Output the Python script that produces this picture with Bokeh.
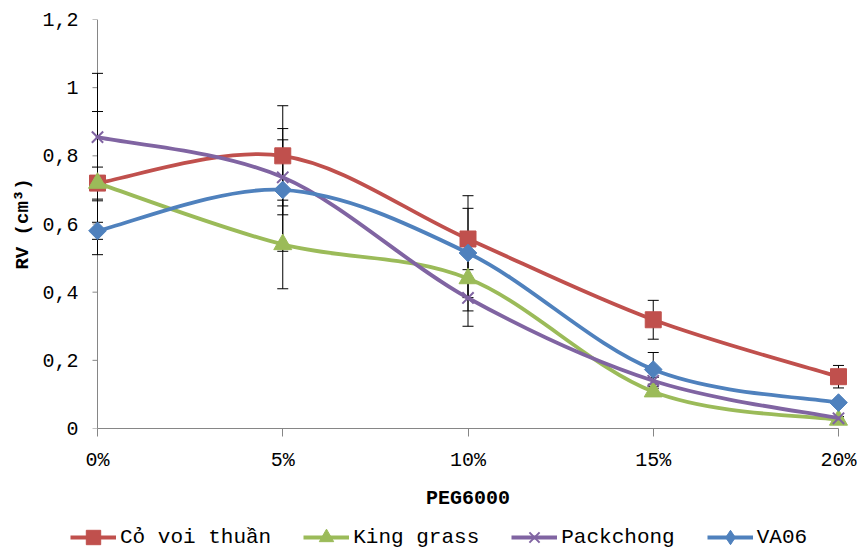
import numpy as np
from bokeh.plotting import figure
from bokeh.models import (Range1d, FixedTicker, CustomJSTickFormatter, Whisker, TeeHead,
                          ColumnDataSource, Legend, LegendItem, Span)
from bokeh.embed import file_html
from bokeh.resources import INLINE

# ---------------- data ----------------
categories = ["0%", "5%", "10%", "15%", "20%"]
peg = [0, 5, 10, 15, 20]

co_voi = [0.72, 0.80, 0.556, 0.319, 0.152]
co_voi_err = [0.21, 0.147, 0.127, 0.057, 0.033]

king_grass = [0.72, 0.54, 0.44, 0.108, 0.025]
king_grass_err = [0.047, 0.13, 0.095, 0.01, 0.005]

packchong = [0.855, 0.737, 0.383, 0.14, 0.03]
packchong_err = [0.187, 0.11, 0.083, 0.01, 0.005]

va06 = [0.58, 0.70, 0.515, 0.173, 0.076]
va06_err = [0.025, 0.18, 0.131, 0.05, 0.008]

series_names = ["Cỏ voi thuần", "King grass", "Packchong", "VA06"]
y_ticks = [0, 0.2, 0.4, 0.6, 0.8, 1.0, 1.2]

FONT = "Liberation Mono"
AXIS_GRAY = "#868686"
W = 857

p = figure(width=W, height=512, output_backend="svg", toolbar_location=None,
           x_range=Range1d(-0.297, 20.297), y_range=Range1d(0, 1.2),
           min_border_left=86, min_border_right=8, min_border_top=19, min_border_bottom=83)
p.outline_line_color = None
p.grid.visible = False
p.background_fill_color = "white"
p.border_fill_color = "white"

# ---------------- axes ----------------
xa = p.xaxis[0]
xa.ticker = FixedTicker(ticks=peg)
xa.formatter = CustomJSTickFormatter(args=dict(labels=categories, pos=peg),
                                     code="return labels[pos.indexOf(tick)];")
xa.bounds = (0, 20)
xa.axis_line_color = AXIS_GRAY
xa.major_tick_line_color = AXIS_GRAY
xa.major_tick_out = 8
xa.major_tick_in = 0
xa.minor_tick_line_color = None
xa.major_label_standoff = 12
xa.major_label_text_font = FONT
xa.major_label_text_font_size = "20px"
xa.major_label_text_color = "black"
xa.axis_label = "PEG6000"
xa.axis_label_text_font = FONT
xa.axis_label_text_font_size = "20px"
xa.axis_label_text_font_style = "bold"
xa.axis_label_text_color = "black"
xa.axis_label_standoff = 12

ya = p.yaxis[0]
ya.ticker = FixedTicker(ticks=y_ticks)
ya.formatter = CustomJSTickFormatter(
    code="return tick.toFixed(1).replace('.', ',').replace(',0', '');")
ya.axis_line_color = None
ya.major_tick_line_color = None
ya.major_tick_out = 0
ya.major_tick_in = 0
ya.minor_tick_line_color = None
ya.major_label_standoff = 8
ya.major_label_text_font = FONT
ya.major_label_text_font_size = "20px"
ya.major_label_text_color = "black"
ya.axis_label = "RV (cm³)"
ya.axis_label_text_font = FONT
ya.axis_label_text_font_size = "19px"
ya.axis_label_text_font_style = "bold"
ya.axis_label_text_color = "black"
ya.axis_label_standoff = 5

# y axis line and outside ticks at x = 0
p.add_layout(Span(location=0, dimension="height", line_color=AXIS_GRAY, line_width=1,
                  level="underlay"))
p.ray(x=[0] * len(y_ticks), y=y_ticks, length=5, length_units="screen", angle=np.pi,
      line_color=AXIS_GRAY, line_width=1, level="underlay")


def smooth_segments(xs, ys):
    x = np.asarray(xs, float)
    y = np.asarray(ys, float)
    n = len(x)
    qx = np.concatenate([[x[0]], x, [x[-1]]])
    qy = np.concatenate([[y[0]], y, [y[-1]]])
    cx0 = x[:-1] + (qx[2:n + 1] - qx[0:n - 1]) / 6.0
    cy0 = y[:-1] + (qy[2:n + 1] - qy[0:n - 1]) / 6.0
    cx1 = x[1:] - (qx[3:n + 2] - qx[1:n]) / 6.0
    cy1 = y[1:] - (qy[3:n + 2] - qy[1:n]) / 6.0
    return dict(x0=x[:-1], y0=y[:-1], x1=x[1:], y1=y[1:],
                cx0=cx0, cy0=cy0, cx1=cx1, cy1=cy1)


series = [
    (co_voi, co_voi_err, "#C0504D", dict(marker="square", size=16, angle=0.0, leg="square")),
    (king_grass, king_grass_err, "#9BBB59", dict(marker="triangle", size=18, angle=0.0, leg="triangle")),
    (packchong, packchong_err, "#8064A2", dict(marker="x", size=16, angle=0.0, leg="x")),
    (va06, va06_err, "#4F81BD", dict(marker="square", size=12.5, angle=np.pi / 4, leg="diamond")),
]

# error bars (drawn under the lines)
for vals, errs, color, mk in series:
    v = np.asarray(vals)
    e = np.asarray(errs)
    src = ColumnDataSource(dict(x=peg, upper=v + e, lower=v - e))
    w = Whisker(source=src, base="x", upper="upper", lower="lower", dimension="height",
                line_color="black", line_width=1,
                upper_head=TeeHead(size=11, line_color="black", line_width=1),
                lower_head=TeeHead(size=11, line_color="black", line_width=1),
                level="underlay")
    p.add_layout(w)

for vals, errs, color, mk in series:
    seg = ColumnDataSource(smooth_segments(peg, vals))
    p.bezier(x0="x0", y0="y0", x1="x1", y1="y1", cx0="cx0", cy0="cy0",
             cx1="cx1", cy1="cy1", source=seg, line_color=color,
             line_width=3.8, line_cap="round")
    lw = 2 if mk["marker"] == "x" else 1
    p.scatter(x=peg, y=vals, marker=mk["marker"], size=mk["size"], angle=mk["angle"],
              fill_color=color, line_color=color, line_width=lw)

# ---------------- legend strip (same series, drawn off-range) ----------------
lg = figure(width=W, height=38, output_backend="svg", toolbar_location=None,
            x_range=Range1d(100, 101), y_range=Range1d(100, 101),
            x_axis_type=None, y_axis_type=None,
            min_border_left=0, min_border_right=0, min_border_top=0, min_border_bottom=0)
lg.outline_line_color = None
lg.grid.visible = False

items = []
for (vals, errs, color, mk), name in zip(series, series_names):
    ln = lg.line(x=peg, y=vals, line_color=color, line_width=3.8)
    lw = 2 if mk["marker"] == "x" else 1
    sc = lg.scatter(x=peg, y=vals, marker=mk["leg"], size=mk["size"],
                    fill_color=color, line_color=color, line_width=lw)
    items.append(LegendItem(label=name, renderers=[ln, sc]))

legend = Legend(items=items, orientation="horizontal", location=(70, -5),
                glyph_width=46, glyph_height=36, label_standoff=4, spacing=32,
                padding=0, margin=0, border_line_color=None, background_fill_alpha=0,
                label_text_font=FONT, label_text_font_size="21px",
                label_text_color="black")
lg.add_layout(legend, "center")

open("out.html", "w").write(file_html([p, lg], INLINE))
